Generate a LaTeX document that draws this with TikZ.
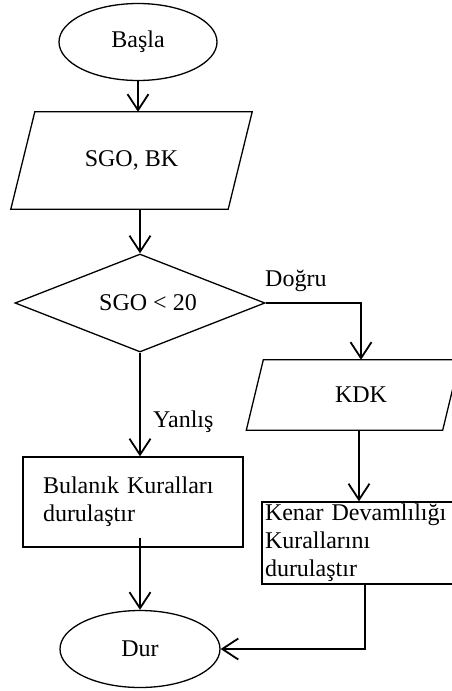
\documentclass[tikz,border=0pt]{standalone}
\usepackage{fontspec}
\setmainfont{Liberation Serif}
\usepackage{tikz}
\usetikzlibrary{arrows.meta, shapes.geometric, positioning, calc}
\tikzset{
  % Start / stop ellipse
  SE/.style={ellipse,draw,line width=1.3pt,inner sep=0pt,
             minimum width=#1,minimum height=77},
  SE/.default=158,
  % Input parallelogram: body only, sides drawn afterwards
  IO/.style={rectangle,inner sep=0pt,minimum width=#1},
  IO/.default=217,
  Box/.style={line width=1.3pt,line join=miter},
  % Decision diamond
  DC/.style={diamond,draw,line width=1.3pt,inner sep=0pt,aspect=2.55,
             minimum width=250,minimum height=98},
  % Process box, text to the left
  PB/.style={rectangle,draw,line width=1.3pt,align=left,
             text width=#1,inner ysep=0pt},
  PB/.default=180,
  % Edge label
  LB/.style={anchor=west,inner sep=0pt},
  % Arrows
  Arr/.style={-{Straight Barb[length=16pt,width=21pt]},line width=1.8pt},
}

\begin{document}
\begin{tikzpicture}[x=1pt,y=-1pt,
    every node/.style={font=\fontsize{24}{28}\selectfont}]
  \useasboundingbox (0,0) rectangle (451,691);
  \node[SE] at (138,42) (bas) {Başla};
  \node[IO,minimum height=97] at (131.5,160.5) (sgo) {SGO, BK};
  \draw[Box] ([xshift=12pt]sgo.north west) -- ([xshift=12pt]sgo.north east)
     -- ([xshift=-12pt]sgo.south east) -- ([xshift=-12pt]sgo.south west)
     -- cycle;
  \draw[Arr] (bas.south) -- (bas.south |- sgo.north);
  \node[DC] at (140,303) (dia) {\hspace*{16pt}SGO < 20};
  \draw[Arr] (dia.north |- sgo.south) -- (dia.north);
  \node[LB] at (265,281) (dog) {Doğru};
  \node[IO=196,minimum height=70] at (353,395) (kdk) {\hspace*{16pt}KDK};
  \draw[Box] ([xshift=8.5pt]kdk.north west) -- ([xshift=8.5pt]kdk.north east)
     -- ([xshift=-8.5pt]kdk.south east) -- ([xshift=-8.5pt]kdk.south west)
     -- cycle;
  \draw[Arr] (dia.east) -| ([xshift=8pt]kdk.north);
  \node[PB,inner xsep=20pt,minimum height=90] at (133,502) (bul)
       {Bulanık Kuralları\\durulaştır};
  \draw[Arr] (dia.south) -- (dia.south |- bul.north);
  \node[LB] at (153,422) (yan) {Yanlış};
  \node[PB=188,inner xsep=3pt,minimum height=82] at (359,543) (ken)
       {Kenar Devamlılığı\\Kurallarını\\durulaştır};
  \draw[Arr] ([xshift=6pt]kdk.south) -- ([xshift=6pt]kdk.south |- ken.north);
  \node[SE=160] at (140,649) (dur) {Dur};
  \draw[Arr] ([yshift=10pt]dur.north |- bul.south) -- (dur.north);
  \draw[Arr] ([xshift=6pt]ken.south) |- (dur.east);
\end{tikzpicture}
\end{document}
